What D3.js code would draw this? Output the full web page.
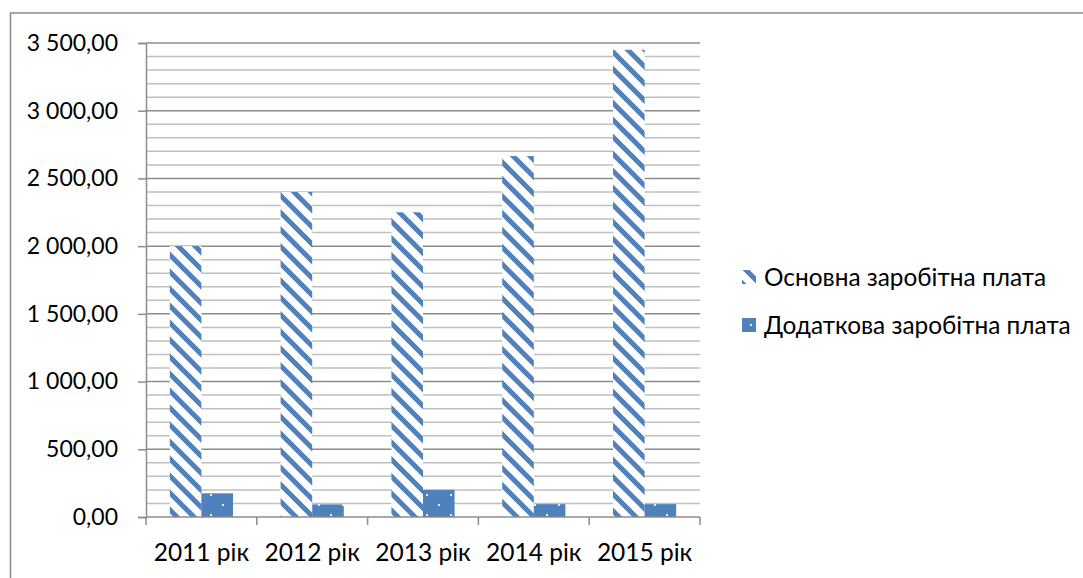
<!DOCTYPE html>
<html><head><meta charset="utf-8">
<script src="https://cdn.jsdelivr.net/npm/d3@7"></script>
<style>body{margin:0;background:#fff}svg{display:block}text{font-family:Lato,"Noto Sans",sans-serif;fill:#000}</style>
</head><body><svg id="c" width="1083" height="578"></svg>
<script>
const categories = ["2011 рік","2012 рік","2013 рік","2014 рік","2015 рік"];
const seriesNames = ["Основна заробітна плата","Додаткова заробітна плата"];
const mainSalary = [2000, 2400, 2250, 2665, 3450];
const extraSalary = [175, 93, 200, 95, 95];
const yTicks = [0,500,1000,1500,2000,2500,3000,3500];
const yMinor = d3.range(0, 3501, 100);

const svg = d3.select("#c");
const blue = "#4F81BD";
const defs = svg.append("defs");
const P = 17;
const p1 = defs.append("pattern").attr("id","stripe").attr("patternUnits","userSpaceOnUse")
  .attr("width",P).attr("height",P);
p1.append("rect").attr("width",P).attr("height",P).attr("fill","#fff");
p1.append("path").attr("d",`M-5,-5L${P+5},${P+5}M-5,${P-5}L5,${P+5}M${P-5},-5L${P+5},5`)
  .attr("stroke",blue).attr("stroke-width",5);
const p2 = defs.append("pattern").attr("id","dots").attr("patternUnits","userSpaceOnUse")
  .attr("width",24).attr("height",20);
p2.append("rect").attr("width",24).attr("height",20).attr("fill",blue);
p2.append("rect").attr("x",6).attr("y",4).attr("width",2).attr("height",2).attr("fill","#e4ecf5");
p2.append("rect").attr("x",18).attr("y",14).attr("width",2).attr("height",2).attr("fill","#e4ecf5");

// outer frame
svg.append("rect").attr("x",10.5).attr("y",13).attr("width",1200).attr("height",700)
  .attr("fill","none").attr("stroke","#8c8c8c").attr("stroke-width",1.5);

const x0 = d3.scaleBand().domain(categories).range([146,700]).paddingInner(0.43).paddingOuter(0.215);
const x1 = d3.scaleBand().domain(seriesNames).range([0,x0.bandwidth()]);
const y = d3.scaleLinear().domain([0,3500]).range([517,43]);

// gridlines
svg.append("g").selectAll("line").data(yMinor.filter(v=>v%500!==0)).join("line")
  .attr("x1",146).attr("x2",700).attr("y1",d=>y(d)).attr("y2",d=>y(d))
  .attr("stroke","#bfbfbf").attr("stroke-width",1.5);
svg.append("g").selectAll("line").data(yTicks.filter(v=>v>0)).join("line")
  .attr("x1",146).attr("x2",700).attr("y1",d=>y(d)).attr("y2",d=>y(d))
  .attr("stroke","#8c8c8c").attr("stroke-width",1.5);

// bars
const g = svg.append("g");
categories.forEach((c,i)=>{
  const vals=[mainSalary[i], extraSalary[i]];
  vals.forEach((v,j)=>{
    g.append("rect").attr("x",x0(c)+x1(seriesNames[j])).attr("width",x1.bandwidth())
      .attr("y",y(v)).attr("height",y(0)-y(v))
      .attr("fill", j===0?"url(#stripe)":"url(#dots)");
  });
});

// y axis
const ya = svg.append("g").attr("transform","translate(146,0)")
  .call(d3.axisLeft(y).tickValues(yTicks).tickSize(8).tickPadding(20)
    .tickFormat(d=>d3.format(",.2f")(d).replace(/,/g," ").replace(".",",")));
ya.select(".domain").attr("stroke","#8c8c8c").attr("stroke-width",1.5);
ya.selectAll(".tick line").attr("stroke","#8c8c8c").attr("stroke-width",1.5);
ya.selectAll("text").attr("font-size",23).attr("font-family","Lato").attr("fill","#000");

// x axis
const xa = svg.append("g").attr("transform","translate(0,517)");
xa.append("line").attr("x1",146).attr("x2",700).attr("stroke","#8c8c8c").attr("stroke-width",1.5);
const bounds = categories.map(c=>x0(c)-x0.step()*x0.paddingInner()/2).concat([700]);
xa.selectAll(".t").data(bounds).join("line").attr("class","t")
  .attr("x1",d=>d).attr("x2",d=>d).attr("y1",0).attr("y2",8)
  .attr("stroke","#8c8c8c").attr("stroke-width",1.5);
xa.selectAll("text").data(categories).join("text")
  .attr("x",d=>x0(d)+x0.bandwidth()/2).attr("y",44).attr("text-anchor","middle")
  .attr("font-size",24.5).text(d=>d);

// legend
const lg = svg.append("g");
seriesNames.forEach((s,i)=>{
  const yy = 277 + i*48;
  lg.append("rect").attr("x",742).attr("y",yy-7).attr("width",14).attr("height",14)
    .attr("fill", i===0?"url(#stripe)":"url(#dots)");
  lg.append("text").attr("x",764).attr("y",yy).attr("dy","0.36em").attr("font-size",24.4).text(s);
});
</script></body></html>
